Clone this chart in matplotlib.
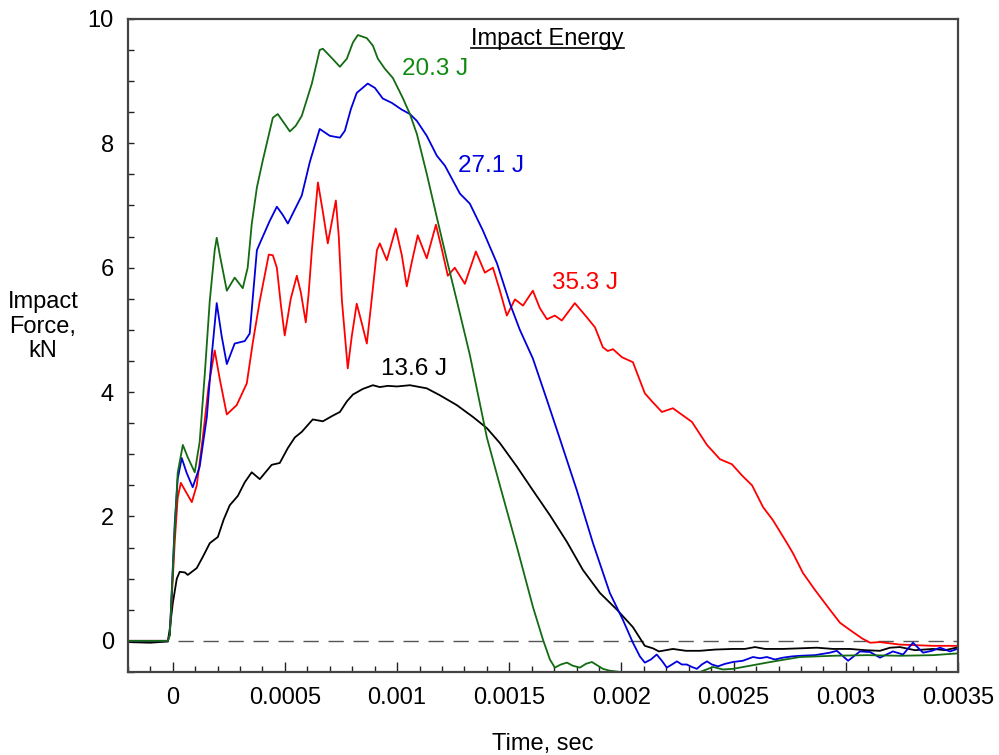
import matplotlib
matplotlib.use("Agg")
import matplotlib.pyplot as plt
from matplotlib.ticker import MultipleLocator, FixedLocator
from matplotlib.lines import Line2D

plt.rcParams['font.family'] = ['Liberation Sans', 'DejaVu Sans']

# --- data (time in ms, force in kN) ---
t_green = [-0.2, -0.022, -0.013, 0.009, 0.022, 0.045, 0.067, 0.098, 0.120, 0.143, 0.165, 0.187, 0.196,
           0.210, 0.241, 0.276, 0.312, 0.334, 0.352, 0.375, 0.401, 0.446, 0.468, 0.499, 0.522, 0.548,
           0.575, 0.620, 0.655, 0.669, 0.709, 0.745, 0.776, 0.803, 0.825, 0.865, 0.892, 0.914, 0.945,
           0.981, 1.025, 1.057, 1.088, 1.132, 1.177, 1.222, 1.266, 1.324, 1.400, 1.458, 1.534, 1.605,
           1.650, 1.681, 1.703, 1.730, 1.757, 1.783, 1.815, 1.841, 1.868, 1.895, 1.917, 1.948, 1.993,
           2.082, 2.216, 2.350, 2.408, 2.452, 2.497, 2.573, 2.648, 2.729, 2.796, 2.943, 3.094, 3.241,
           3.389, 3.505]
f_green = [0, 0, 0.1, 1.8, 2.7, 3.15, 2.95, 2.71, 3.2, 4.3, 5.47, 6.28, 6.48,
           6.2, 5.63, 5.84, 5.67, 6.0, 6.7, 7.29, 7.72, 8.41, 8.47, 8.31, 8.19, 8.28,
           8.44, 8.96, 9.5, 9.52, 9.37, 9.23, 9.36, 9.62, 9.74, 9.69, 9.57, 9.36, 9.2,
           9.05, 8.73, 8.47, 8.15, 7.51, 6.81, 6.12, 5.47, 4.6, 3.27, 2.5, 1.51, 0.55,
           0.02, -0.3, -0.43, -0.38, -0.35, -0.4, -0.43, -0.37, -0.34, -0.4, -0.45, -0.48, -0.5,
           -0.52, -0.53, -0.5, -0.42, -0.46, -0.45, -0.4, -0.35, -0.3, -0.26, -0.24, -0.23, -0.24,
           -0.23, -0.2]

t_blue = [-0.2, -0.022, -0.013, 0.009, 0.022, 0.040, 0.062, 0.089, 0.120, 0.152, 0.174, 0.196, 0.218,
          0.241, 0.276, 0.321, 0.343, 0.375, 0.388, 0.432, 0.464, 0.490, 0.513, 0.575, 0.611, 0.655,
          0.700, 0.745, 0.767, 0.794, 0.820, 0.869, 0.901, 0.936, 0.976, 1.021, 1.057, 1.088, 1.132,
          1.177, 1.213, 1.280, 1.324, 1.382, 1.445, 1.503, 1.547, 1.605, 1.668, 1.717, 1.801, 1.873,
          1.948, 2.006, 2.051, 2.082, 2.104, 2.131, 2.157, 2.180, 2.202, 2.225, 2.247, 2.269, 2.291,
          2.314, 2.336, 2.358, 2.381, 2.403, 2.430, 2.461, 2.497, 2.541, 2.586, 2.617, 2.648, 2.684,
          2.720, 2.760, 2.796, 2.862, 2.929, 2.960, 3.010, 3.063, 3.108, 3.152, 3.210, 3.255, 3.299,
          3.344, 3.384, 3.420, 3.464, 3.505]
f_blue = [0, 0, 0.1, 1.9, 2.6, 2.94, 2.7, 2.47, 2.8, 3.6, 4.6, 5.43, 4.9,
          4.45, 4.78, 4.82, 4.94, 6.28, 6.39, 6.75, 6.98, 6.85, 6.71, 7.16, 7.7, 8.23,
          8.12, 8.09, 8.2, 8.55, 8.81, 8.96, 8.89, 8.72, 8.65, 8.54, 8.47, 8.36, 8.12,
          7.8, 7.64, 7.19, 7.03, 6.6, 6.07, 5.42, 5.0, 4.54, 3.87, 3.34, 2.42, 1.57,
          0.77, 0.34, -0.03, -0.25, -0.35, -0.3, -0.22, -0.32, -0.43, -0.38, -0.33, -0.38, -0.38,
          -0.42, -0.45, -0.38, -0.33, -0.38, -0.41, -0.37, -0.34, -0.32, -0.26, -0.28, -0.26, -0.3,
          -0.27, -0.25, -0.24, -0.23, -0.19, -0.16, -0.32, -0.17, -0.18, -0.27, -0.17, -0.22, -0.03,
          -0.19, -0.16, -0.11, -0.17, -0.12]

t_red = [-0.2, -0.022, -0.013, 0.009, 0.022, 0.036, 0.058, 0.085, 0.107, 0.134, 0.160, 0.187, 0.210,
         0.241, 0.285, 0.330, 0.357, 0.388, 0.428, 0.446, 0.464, 0.482, 0.499, 0.526, 0.553, 0.571,
         0.593, 0.606, 0.620, 0.647, 0.669, 0.691, 0.727, 0.740, 0.754, 0.780, 0.798, 0.820, 0.843,
         0.865, 0.887, 0.910, 0.923, 0.954, 0.994, 1.021, 1.043, 1.066, 1.092, 1.132, 1.173, 1.199,
         1.226, 1.257, 1.302, 1.351, 1.391, 1.427, 1.458, 1.489, 1.525, 1.561, 1.605, 1.636, 1.668,
         1.703, 1.734, 1.792, 1.846, 1.882, 1.917, 1.939, 1.962, 2.002, 2.051, 2.104, 2.136, 2.180,
         2.229, 2.314, 2.381, 2.439, 2.492, 2.537, 2.582, 2.631, 2.675, 2.738, 2.764, 2.809, 2.862,
         2.929, 2.974, 3.032, 3.072, 3.108, 3.152, 3.241, 3.389, 3.505]
f_red = [0, 0, 0.1, 1.6, 2.3, 2.54, 2.4, 2.23, 2.5, 3.27, 4.1, 4.67, 4.2,
         3.64, 3.79, 4.14, 4.8, 5.47, 6.21, 6.2, 6.0, 5.4, 4.91, 5.5, 5.87, 5.6,
         5.12, 5.6, 6.28, 7.37, 6.9, 6.39, 7.08, 6.5, 5.47, 4.38, 4.9, 5.42, 5.1,
         4.78, 5.5, 6.28, 6.39, 6.12, 6.63, 6.2, 5.7, 6.1, 6.52, 6.15, 6.69, 6.3,
         5.87, 6.0, 5.74, 6.26, 5.92, 6.0, 5.63, 5.23, 5.49, 5.39, 5.63, 5.35, 5.17,
         5.23, 5.15, 5.43, 5.2, 5.04, 4.72, 4.66, 4.69, 4.56, 4.48, 3.98, 3.85, 3.68,
         3.74, 3.52, 3.15, 2.92, 2.84, 2.66, 2.5, 2.15, 1.94, 1.57, 1.41, 1.09, 0.82,
         0.5, 0.29, 0.14, 0.04, -0.03, -0.02, -0.06, -0.08, -0.08]

t_black = [-0.2, -0.1, -0.022, -0.013, 0.0, 0.018, 0.031, 0.054, 0.067, 0.107, 0.134, 0.165, 0.201,
           0.227, 0.254, 0.290, 0.321, 0.352, 0.388, 0.441, 0.477, 0.513, 0.544, 0.575, 0.624, 0.669,
           0.713, 0.745, 0.776, 0.803, 0.847, 0.892, 0.923, 0.959, 0.999, 1.057, 1.132, 1.190, 1.266,
           1.338, 1.400, 1.458, 1.534, 1.605, 1.681, 1.757, 1.828, 1.904, 1.980, 2.051, 2.104, 2.140,
           2.167, 2.229, 2.287, 2.350, 2.417, 2.497, 2.550, 2.595, 2.640, 2.720, 2.796, 2.871, 2.943,
           3.018, 3.085, 3.152, 3.197, 3.241, 3.308, 3.389, 3.442, 3.505]
f_black = [-0.02, -0.03, -0.01, 0.2, 0.6, 1.0, 1.11, 1.1, 1.06, 1.17, 1.35, 1.57, 1.67,
           1.95, 2.18, 2.33, 2.55, 2.71, 2.6, 2.83, 2.86, 3.1, 3.27, 3.36, 3.56, 3.53,
           3.62, 3.68, 3.85, 3.96, 4.05, 4.11, 4.08, 4.1, 4.09, 4.11, 4.06, 3.95, 3.79,
           3.6, 3.42, 3.18, 2.8, 2.42, 2.02, 1.59, 1.14, 0.77, 0.5, 0.22, -0.08, -0.12,
           -0.17, -0.13, -0.16, -0.16, -0.14, -0.13, -0.13, -0.1, -0.13, -0.13, -0.12, -0.11, -0.13,
           -0.13, -0.15, -0.16, -0.11, -0.1, -0.15, -0.13, -0.15, -0.1]

def sec(ms):
    return [v * 1e-3 for v in ms]

# --- plot ---
fig = plt.figure(figsize=(9.99, 7.55), dpi=100)
ax = fig.add_axes([0.128, 0.110, 0.831, 0.865])

ax.axhline(0, color="#555555", lw=1.0, dashes=(11, 7), zorder=1)

lw = 1.3
kw = dict(lw=lw, solid_joinstyle="round", solid_capstyle="round")
ax.plot(sec(t_black), f_black, color="black", **kw)
ax.plot(sec(t_red), f_red, color="#ff0000", **kw)
ax.plot(sec(t_blue), f_blue, color="#0000dd", **kw)
ax.plot(sec(t_green), f_green, color="#136b13", **kw)

ax.set_xlim(-0.0002, 0.0035)
ax.set_ylim(-0.5, 10)

ax.xaxis.set_major_locator(FixedLocator([0, 0.0005, 0.001, 0.0015, 0.002, 0.0025, 0.003, 0.0035]))
ax.xaxis.set_minor_locator(MultipleLocator(0.0001))
ax.set_xticklabels(["0", "0.0005", "0.001", "0.0015", "0.002", "0.0025", "0.003", "0.0035"])
ax.yaxis.set_major_locator(MultipleLocator(2))
ax.yaxis.set_minor_locator(MultipleLocator(0.5))

ax.tick_params(which="both", direction="in", top=False, right=False, labelsize=17, color="#222222")
ax.tick_params(axis="x", which="major", length=7, width=1, pad=11)
ax.tick_params(axis="x", which="minor", length=4, width=1)
ax.tick_params(axis="y", which="major", length=4, width=1, pad=10)
ax.tick_params(axis="y", which="minor", length=4, width=1)

for s in ax.spines.values():
    s.set_color("#444444")
    s.set_linewidth(1.6)

ax.set_xlabel("Time, sec", fontsize=17, labelpad=17)
fig.text(0.043, 0.567, "Impact\nForce,\nkN", fontsize=17, ha="center", va="center",
         linespacing=1.15)

# --- curve labels ---
ax.text(0.00102, 9.2, "20.3 J", color="#128a12", fontsize=17.5, va="center")
ax.text(0.00127, 7.64, "27.1 J", color="#0000dd", fontsize=17.5, va="center")
ax.text(0.00169, 5.76, "35.3 J", color="#ff0000", fontsize=17.5, va="center")
ax.text(0.000927, 4.37, "13.6 J", color="black", fontsize=17.5, va="center")
title = ax.text(0.00167, 9.68, "Impact Energy", color="black", fontsize=17, ha="center", va="center")

fig.canvas.draw()
bb = title.get_window_extent().transformed(fig.transFigure.inverted())
fig.add_artist(Line2D([bb.x0, bb.x1], [bb.y0 + 0.002, bb.y0 + 0.002], color="black", lw=1.2))

fig.savefig("out.png", dpi=100)
